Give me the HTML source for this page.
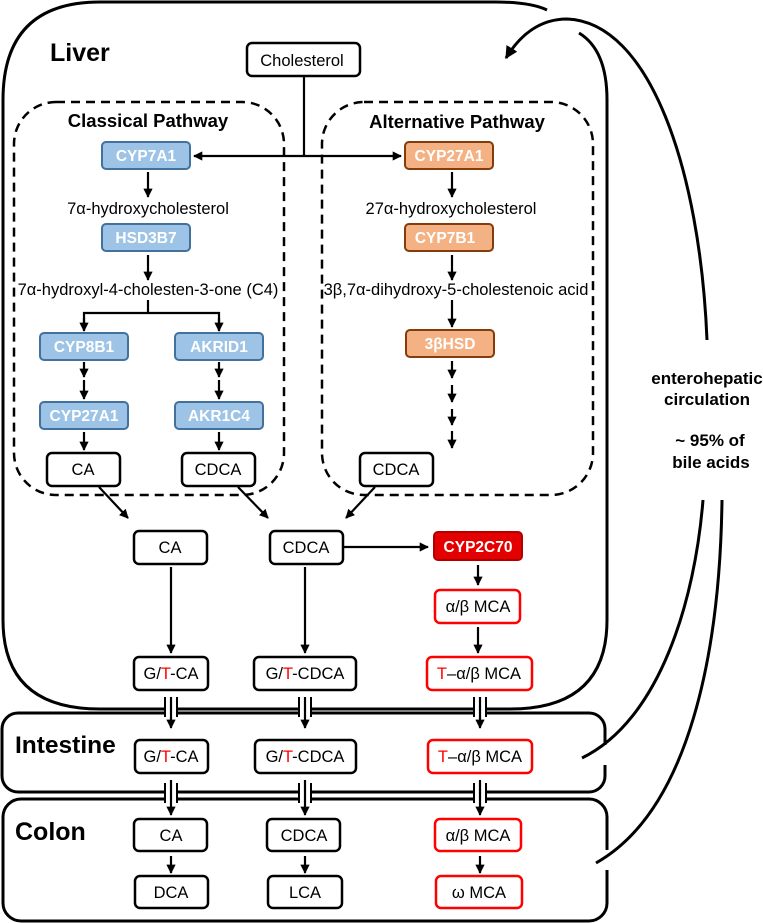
<!DOCTYPE html>
<html><head><meta charset="utf-8"><style>
html,body{margin:0;padding:0;background:#fff}
svg{display:block}
text{font-family:"Liberation Sans",sans-serif}
.t{font-size:16.5px;fill:#000;text-anchor:middle}
.b{font-weight:bold}
.w{fill:#fff;font-weight:bold;font-size:15.5px;text-anchor:middle}
</style></head><body>
<svg width="763" height="923" viewBox="0 0 763 923" xmlns="http://www.w3.org/2000/svg">
<defs>
<marker id="a" viewBox="0 0 10 10" refX="9" refY="5" markerWidth="4.2" markerHeight="4.2" orient="auto-start-reverse" markerUnits="strokeWidth"><path d="M0 0 L10 5 L0 10 z" fill="#000"/></marker>
</defs>
<g fill="none" stroke="#000" stroke-width="3">
<path d="M547 10 Q530 2 495 2 L100 2 Q3 2 3 100 L3 620 Q3 709 100 709 L510 709 Q607 709 607 620 L607 100 Q607 50 579 33"/>
<rect x="2" y="713" width="603" height="79" rx="16"/>
<rect x="3" y="799" width="604" height="122" rx="18"/>
</g>
<g fill="#fff">
<rect x="164" y="700" width="14" height="16"/><rect x="298" y="700" width="14" height="16"/><rect x="473" y="700" width="14" height="16"/>
<rect x="164" y="786" width="14" height="16"/><rect x="298" y="786" width="14" height="16"/><rect x="473" y="786" width="14" height="16"/>
<rect x="590" y="745" width="20" height="20"/><rect x="590" y="850" width="20" height="20"/>
</g>
<g stroke="#000" stroke-width="2">
<line x1="165" y1="697" x2="165" y2="717"/><line x1="177" y1="697" x2="177" y2="717"/>
<line x1="299" y1="697" x2="299" y2="717"/><line x1="311" y1="697" x2="311" y2="717"/>
<line x1="474" y1="697" x2="474" y2="717"/><line x1="486" y1="697" x2="486" y2="717"/>
<line x1="165" y1="783" x2="165" y2="803"/><line x1="177" y1="783" x2="177" y2="803"/>
<line x1="299" y1="783" x2="299" y2="803"/><line x1="311" y1="783" x2="311" y2="803"/>
<line x1="474" y1="783" x2="474" y2="803"/><line x1="486" y1="783" x2="486" y2="803"/>
</g>
<g fill="none" stroke="#000" stroke-width="3">
<path d="M707 340 C700 170 650 22 567 19 C540 19 520 35 506 58" marker-end="url(#a)"/>
<path d="M703 500 C695 600 660 720 582 758"/>
<path d="M722 500 C720 650 690 810 596 863"/>
</g>
<g fill="none" stroke="#000" stroke-width="2.5" stroke-dasharray="9,6">
<rect x="14" y="102" width="270" height="393" rx="42"/>
<rect x="322" y="102" width="271" height="393" rx="42"/>
</g>
<g stroke="#000" stroke-width="2.2" fill="none">
<polyline points="304,76 304,156"/>
<line x1="304" y1="156" x2="194" y2="156" marker-end="url(#a)"/>
<line x1="304" y1="156" x2="401" y2="156" marker-end="url(#a)"/>
<line x1="148" y1="172" x2="148" y2="197" marker-end="url(#a)"/>
<line x1="452" y1="172" x2="452" y2="197" marker-end="url(#a)"/>
<line x1="148" y1="255" x2="148" y2="280" marker-end="url(#a)"/>
<line x1="452" y1="255" x2="452" y2="280" marker-end="url(#a)"/>
<polyline points="148,300 148,313"/>
<polyline points="84,330 84,313 219,313 219,330"/>
<line x1="84" y1="318" x2="84" y2="331" marker-end="url(#a)"/>
<line x1="219" y1="318" x2="219" y2="331" marker-end="url(#a)"/>
<line x1="452" y1="300" x2="452" y2="327" marker-end="url(#a)"/>
<line x1="84" y1="362" x2="84" y2="377" marker-end="url(#a)"/>
<line x1="84" y1="380" x2="84" y2="399" marker-end="url(#a)"/>
<line x1="219" y1="362" x2="219" y2="377" marker-end="url(#a)"/>
<line x1="219" y1="380" x2="219" y2="399" marker-end="url(#a)"/>
<line x1="84" y1="432" x2="84" y2="450" marker-end="url(#a)"/>
<line x1="219" y1="432" x2="219" y2="450" marker-end="url(#a)"/>
<line x1="452" y1="361" x2="452" y2="378" marker-end="url(#a)"/>
<line x1="452" y1="385" x2="452" y2="402" marker-end="url(#a)"/>
<line x1="452" y1="409" x2="452" y2="425" marker-end="url(#a)"/>
<line x1="452" y1="431" x2="452" y2="448" marker-end="url(#a)"/>
<line x1="99" y1="487" x2="128" y2="518" marker-end="url(#a)"/>
<line x1="238" y1="487" x2="268" y2="518" marker-end="url(#a)"/>
<line x1="375" y1="487" x2="346" y2="518" marker-end="url(#a)"/>
<line x1="343" y1="547" x2="428" y2="547" marker-end="url(#a)"/>
<line x1="478" y1="565" x2="478" y2="585" marker-end="url(#a)"/>
<line x1="478" y1="627" x2="478" y2="653" marker-end="url(#a)"/>
<line x1="171" y1="567" x2="171" y2="653" marker-end="url(#a)"/>
<line x1="305" y1="567" x2="305" y2="653" marker-end="url(#a)"/>
<line x1="171" y1="697" x2="171" y2="728" marker-end="url(#a)"/>
<line x1="305" y1="697" x2="305" y2="728" marker-end="url(#a)"/>
<line x1="480" y1="697" x2="480" y2="728" marker-end="url(#a)"/>
<line x1="171" y1="780" x2="171" y2="815" marker-end="url(#a)"/>
<line x1="305" y1="780" x2="305" y2="815" marker-end="url(#a)"/>
<line x1="480" y1="780" x2="480" y2="815" marker-end="url(#a)"/>
<line x1="171" y1="856" x2="171" y2="873" marker-end="url(#a)"/>
<line x1="305" y1="856" x2="305" y2="873" marker-end="url(#a)"/>
<line x1="480" y1="856" x2="480" y2="873" marker-end="url(#a)"/>
</g>
<g fill="#fff" stroke="#000" stroke-width="2.5">
<rect x="247" y="43" width="113" height="33" rx="5"/>
<rect x="47" y="453" width="73" height="33" rx="5"/>
<rect x="182" y="453" width="73" height="33" rx="5"/>
<rect x="360" y="453" width="73" height="33" rx="5"/>
<rect x="134" y="531" width="73" height="33" rx="5"/>
<rect x="270" y="531" width="73" height="33" rx="5"/>
<rect x="134" y="657" width="74" height="33" rx="5"/>
<rect x="254" y="657" width="102" height="33" rx="5"/>
<rect x="135" y="740" width="73" height="33" rx="5"/>
<rect x="255" y="740" width="101" height="33" rx="5"/>
<rect x="134" y="819" width="73" height="32" rx="5"/>
<rect x="267" y="819" width="73" height="32" rx="5"/>
<rect x="135" y="876" width="73" height="32" rx="5"/>
<rect x="268" y="876" width="74" height="32" rx="5"/>
</g>
<g fill="#fff" stroke="#f00" stroke-width="2.5">
<rect x="435" y="590" width="85" height="33" rx="5"/>
<rect x="427" y="657" width="105" height="33" rx="5"/>
<rect x="428" y="740" width="104" height="33" rx="5"/>
<rect x="435" y="819" width="86" height="32" rx="5"/>
<rect x="436" y="876" width="86" height="32" rx="5"/>
</g>
<rect x="434" y="532" width="88" height="28" rx="4" fill="#e40000" stroke="#b00000" stroke-width="2"/>
<g fill="#9dc3e6" stroke="#41719c" stroke-width="2">
<rect x="102" y="142" width="88" height="27" rx="4"/>
<rect x="102" y="224" width="88" height="27" rx="4"/>
<rect x="40" y="333" width="88" height="27" rx="4"/>
<rect x="175" y="333" width="88" height="27" rx="4"/>
<rect x="40" y="402" width="88" height="27" rx="4"/>
<rect x="175" y="402" width="88" height="27" rx="4"/>
</g>
<g fill="#f4b183" stroke="#843c0c" stroke-width="2">
<rect x="405" y="142" width="88" height="27" rx="4"/>
<rect x="405" y="224" width="88" height="27" rx="4"/>
<rect x="406" y="330" width="88" height="27" rx="4"/>
</g>
<text x="50" y="61" font-size="25" class="b">Liver</text>
<text x="15" y="753" font-size="24.5" class="b">Intestine</text>
<text x="15" y="840" font-size="25" class="b">Colon</text>
<text x="148" y="127" font-size="18.5" class="b" text-anchor="middle">Classical Pathway</text>
<text x="457" y="128" font-size="18.5" class="b" text-anchor="middle">Alternative Pathway</text>
<g font-size="17" class="b" text-anchor="middle">
<text x="707" y="384">enterohepatic</text>
<text x="707" y="405">circulation</text>
<text x="710" y="446">~ 95% of</text>
<text x="711" y="468">bile acids</text>
</g>
<text class="t" x="302" y="66">Cholesterol</text>
<text class="w" x="146" y="161">CYP7A1</text>
<text class="w" x="449" y="161">CYP27A1</text>
<text class="t" x="148" y="214" font-size="15">7α-hydroxycholesterol</text>
<text class="t" x="451" y="214" font-size="15">27α-hydroxycholesterol</text>
<text class="w" x="146" y="243">HSD3B7</text>
<text class="w" x="445" y="243">CYP7B1</text>
<text class="t" x="148" y="295" font-size="15">7α-hydroxyl-4-cholesten-3-one (C4)</text>
<text class="t" x="456" y="295" font-size="15">3β,7α-dihydroxy-5-cholestenoic acid</text>
<text class="w" x="84" y="352">CYP8B1</text>
<text class="w" x="219" y="352">AKRID1</text>
<text class="w" x="450" y="349">3βHSD</text>
<text class="w" x="84" y="421">CYP27A1</text>
<text class="w" x="219" y="421">AKR1C4</text>
<text class="t" x="83" y="475">CA</text>
<text class="t" x="218" y="475">CDCA</text>
<text class="t" x="396" y="475">CDCA</text>
<text class="t" x="170" y="553">CA</text>
<text class="t" x="306" y="553">CDCA</text>
<text class="w" x="478" y="552">CYP2C70</text>
<text class="t" x="478" y="612">α/β MCA</text>
<text class="t" x="171" y="679">G/<tspan fill="#f00">T</tspan>-CA</text>
<text class="t" x="305" y="679">G/<tspan fill="#f00">T</tspan>-CDCA</text>
<text class="t" x="479" y="679"><tspan fill="#f00">T</tspan>–α/β MCA</text>
<text class="t" x="171" y="762">G/<tspan fill="#f00">T</tspan>-CA</text>
<text class="t" x="305" y="762">G/<tspan fill="#f00">T</tspan>-CDCA</text>
<text class="t" x="480" y="762"><tspan fill="#f00">T</tspan>–α/β MCA</text>
<text class="t" x="171" y="841">CA</text>
<text class="t" x="304" y="841">CDCA</text>
<text class="t" x="478" y="841">α/β MCA</text>
<text class="t" x="171" y="898">DCA</text>
<text class="t" x="305" y="898">LCA</text>
<text class="t" x="479" y="898">ω MCA</text>
</svg>
</body></html>
